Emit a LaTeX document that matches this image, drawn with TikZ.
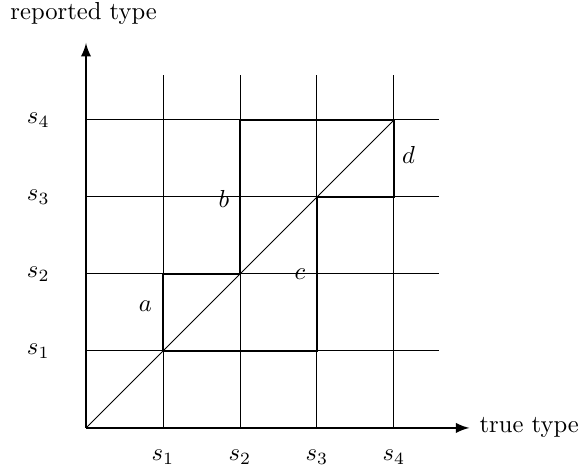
\documentclass[tikz,border=0pt]{standalone}
\begin{document}
\begin{tikzpicture}[x=1.1cm,y=1.1cm,
  gridline/.style={line width=0.4pt},
  thickpath/.style={line width=0.9pt},
  axis/.style={line width=0.9pt,-latex}]
\useasboundingbox (-1.117,-0.584) rectangle (6.442,5.558);
\foreach \i in {1,2,3,4}{
  \draw[gridline] (\i,0) -- (\i,4.58);
  \draw[gridline] (0,\i) -- (4.58,\i);
}
\coordinate (O) at (0,0);
\coordinate (X) at (4.98,0);
\coordinate (Y) at (0,5.0);
\draw[axis] (O) -- (X);
\draw[axis] (O) -- (Y);
\draw[gridline] (O) -- (4,4);
\draw[thickpath] (1,1) -- (1,2) -- (2,2) -- (2,4) -- (4,4) -- (4,3) -- (3,3) -- (3,1) -- cycle;
\node[anchor=west] (tt) at (5.0,0) {true type};
\node (rt) at (-0.03,5.38) {reported type};
\foreach \i in {1,2,3,4}{
  \node (sx\i) at (\i,-0.38) {$s_\i$};
  \node (sy\i) at (-0.62,\i) {$s_\i$};
}
\node (la) at (0.77,1.58) {$a$};
\node (lb) at (1.79,2.97) {$b$};
\node (lc) at (2.78,2.0) {$c$};
\node (ld) at (4.19,3.54) {$d$};
\end{tikzpicture}
\end{document}
